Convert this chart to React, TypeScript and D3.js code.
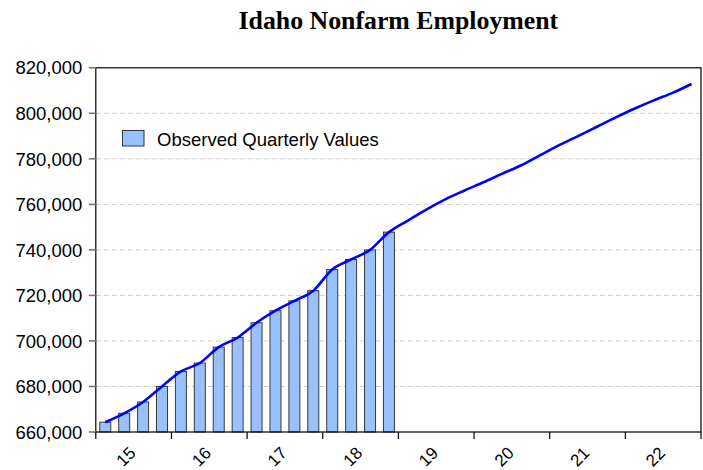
import React from "react";
import * as d3 from "d3";

const title = "Idaho Nonfarm Employment";
const legendLabel = "Observed Quarterly Values";
const startYear = 2015;
const observed = [664300, 668200, 673200, 680000, 686600, 690300, 697300, 701500, 708000, 713300, 717600, 722100, 731400, 735800, 740000, 747800];
const forecast = [752900, 757800, 762300, 766100, 769700, 773500, 777200, 781600, 786000, 790000, 794100, 798200, 802100, 805700, 809000, 812900];
const yearTicks = [2015, 2016, 2017, 2018, 2019, 2020, 2021, 2022, 2023];
const yearLabels = ["15", "16", "17", "18", "19", "20", "21", "22"];
const yTicks = [660000, 680000, 700000, 720000, 740000, 760000, 780000, 800000, 820000];

const W = 703, H = 470;
const L = 95.8, R = 701, T = 67.8, B = 432;
const barFill = "#99c0ff";

export default function App() {
  const x = d3.scaleLinear().domain([2015, 2023]).range([L, R]);
  const y = d3.scaleLinear().domain([660000, 820000]).range([B, T]);
  const qx = (i: number) => x(startYear + (i + 0.5) / 4);
  const lineVals = [...observed, ...forecast];
  const line = d3.line<number>().x((_, i) => qx(i)).y((d) => y(d)).curve(d3.curveMonotoneX)(lineVals) || "";
  const fmt = d3.format(",");
  const barW = 11;
  const font = "'Liberation Sans', Arial, sans-serif";
  return (
    <svg width={W} height={H} style={{ position: "absolute", left: 0, top: 0, background: "#fff" }}>
      <text x={(L + R) / 2} y={28.5} textAnchor="middle" fontFamily="'Liberation Serif', 'Times New Roman', serif" fontWeight="bold" fontSize={25.8}>{title}</text>
      {yTicks.slice(1, -1).map((t) => (
        <line key={"g" + t} x1={L} x2={R} y1={y(t)} y2={y(t)} stroke="#cdcdcd" strokeWidth={1} strokeDasharray="5,3" />
      ))}
      {observed.map((v, i) => (
        <rect key={"b" + i} x={qx(i) - barW / 2} y={y(v)} width={barW} height={B - y(v)} fill={barFill} stroke="#3a3a3a" strokeWidth={1} />
      ))}
      <path d={line} fill="none" stroke="#0000ff" strokeWidth={2.6} strokeLinejoin="round" />
      <rect x={L} y={T} width={R - L} height={B - T} fill="none" stroke="#000" strokeWidth={1.2} />
      {yTicks.map((t) => (
        <g key={"y" + t}>
          <line x1={L - 7} x2={L} y1={y(t)} y2={y(t)} stroke="#777" strokeWidth={1.6} />
          <text x={L - 13.5} y={y(t)} dy="0.36em" textAnchor="end" fontFamily={font} fontSize={18.5}>{fmt(t)}</text>
        </g>
      ))}
      {yearTicks.map((t) => (
        <line key={"xt" + t} x1={x(t)} x2={x(t)} y1={B} y2={B + 7} stroke="#000" strokeWidth={1.2} />
      ))}
      {yearLabels.map((lab, i) => {
        const px = x(yearTicks[i] + 0.5) + 3;
        const py = 454;
        return (
          <text key={"xl" + lab} x={px} y={py} textAnchor="end" transform={`rotate(-45 ${px} ${py})`} fontFamily={font} fontSize={17}>{lab}</text>
        );
      })}
      <rect x={122.5} y={130.5} width={21.5} height={15.5} fill={barFill} stroke="#333" strokeWidth={1} />
      <text x={157} y={146} fontFamily={font} fontSize={18.5}>{legendLabel}</text>
    </svg>
  );
}
